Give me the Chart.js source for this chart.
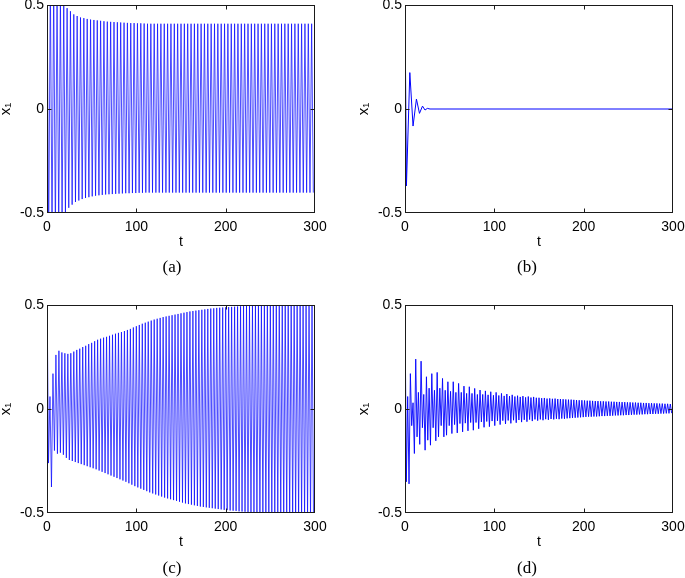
<!DOCTYPE html>
<html>
<head>
<meta charset="utf-8">
<script src="https://cdn.jsdelivr.net/npm/chart.js@4.4.1/dist/chart.umd.min.js"></script>
<style>
  body { margin: 0; width: 685px; height: 578px; overflow: hidden; background: #fff; position: relative; }
  .panel { position: absolute; }
  .cap { position: absolute; font: 17px 'Liberation Serif', 'Times New Roman', serif; color: #000;
         transform: translate(-50%, -50%); white-space: nowrap; }
</style>
</head>
<body>
<div class="panel" style="left:-3px;top:-10px"><canvas id="pa" width="343" height="300"></canvas></div>
<div class="panel" style="left:355px;top:-10px"><canvas id="pb" width="343" height="300"></canvas></div>
<div class="panel" style="left:-3px;top:290px"><canvas id="pc" width="343" height="300"></canvas></div>
<div class="panel" style="left:355px;top:290px"><canvas id="pd" width="343" height="300"></canvas></div>
<div class="cap" style="left:172px;top:267px">(a)</div>
<div class="cap" style="left:527px;top:267px">(b)</div>
<div class="cap" style="left:172px;top:568px">(c)</div>
<div class="cap" style="left:527px;top:568px">(d)</div>
<script>
// x1(t): successive maxima (Up) and minima (Down) of the oscillation.
// Up[i] sits at t = i*period, Down[i] at t = i*period + period/2.

// (a) period ~3.75
const aPeriod = 3.75
const aUp = [
  0.65, 0.62, 0.6, 0.57, 0.54, 0.51, 0.485, 0.47, 0.455, 0.447,
  0.44, 0.437, 0.433, 0.43, 0.428, 0.426, 0.424, 0.422, 0.42, 0.419,
  0.418, 0.417, 0.416, 0.415, 0.414, 0.413, 0.413, 0.412, 0.412, 0.411,
  0.41, 0.41, 0.41, 0.41, 0.41, 0.41, 0.41, 0.41, 0.41, 0.41,
  0.41, 0.41, 0.41, 0.41, 0.41, 0.41, 0.41, 0.41, 0.41, 0.41,
  0.41, 0.41, 0.41, 0.41, 0.41, 0.41, 0.41, 0.41, 0.41, 0.41,
  0.41, 0.41, 0.41, 0.41, 0.41, 0.41, 0.41, 0.41, 0.41, 0.41,
  0.41, 0.41, 0.41, 0.41, 0.41, 0.41, 0.41, 0.41, 0.41, 0.41
]
const aDown = [
  -0.65, -0.62, -0.6, -0.57, -0.54, -0.51, -0.475, -0.46, -0.447, -0.44,
  -0.433, -0.428, -0.424, -0.42, -0.417, -0.415, -0.413, -0.411, -0.41, -0.409,
  -0.408, -0.407, -0.406, -0.405, -0.405, -0.404, -0.404, -0.403, -0.403, -0.402,
  -0.402, -0.402, -0.402, -0.402, -0.402, -0.402, -0.402, -0.402, -0.402, -0.402,
  -0.402, -0.402, -0.402, -0.402, -0.402, -0.402, -0.402, -0.402, -0.402, -0.402,
  -0.402, -0.402, -0.402, -0.402, -0.402, -0.402, -0.402, -0.402, -0.402, -0.402,
  -0.402, -0.402, -0.402, -0.402, -0.402, -0.402, -0.402, -0.402, -0.402, -0.402,
  -0.402, -0.402, -0.402, -0.402, -0.402, -0.402, -0.402, -0.402, -0.402, -0.402
]

// (b) damped quickly, listed point by point
const bT = [0, 1.6, 5.4, 9.0, 12.8, 16.2, 19.6, 22.4, 25, 28, 300]
const bX = [0.5, -0.37, 0.175, -0.082, 0.048, -0.021, 0.014, -0.005, 0.003, 0, 0]

// (c) period ~3.33, growing envelope
const cPeriod = 10 / 3
const cUp = [
  0.6, 0.06, 0.17, 0.26, 0.28, 0.272, 0.268, 0.265, 0.268, 0.276,
  0.284, 0.29, 0.298, 0.304, 0.312, 0.318, 0.326, 0.333, 0.338, 0.343,
  0.347, 0.352, 0.357, 0.362, 0.366, 0.37, 0.375, 0.38, 0.385, 0.392,
  0.398, 0.404, 0.41, 0.415, 0.42, 0.425, 0.43, 0.434, 0.438, 0.442,
  0.445, 0.448, 0.451, 0.454, 0.457, 0.46, 0.463, 0.466, 0.469, 0.471,
  0.473, 0.475, 0.477, 0.479, 0.481, 0.483, 0.484, 0.486, 0.487, 0.488,
  0.489, 0.49, 0.491, 0.492, 0.493, 0.494, 0.495, 0.496, 0.497, 0.498,
  0.499, 0.5, 0.502, 0.504, 0.506, 0.508, 0.51, 0.512, 0.514, 0.516,
  0.518, 0.52, 0.522, 0.524, 0.526, 0.528, 0.53, 0.532, 0.534, 0.536
]
const cDown = [
  -0.26, -0.375, -0.2, -0.215, -0.21, -0.22, -0.235, -0.245, -0.25, -0.255,
  -0.26, -0.265, -0.27, -0.275, -0.28, -0.285, -0.29, -0.296, -0.302, -0.308,
  -0.314, -0.32, -0.326, -0.332, -0.338, -0.344, -0.35, -0.357, -0.364, -0.371,
  -0.377, -0.383, -0.389, -0.395, -0.401, -0.406, -0.411, -0.416, -0.421, -0.426,
  -0.43, -0.434, -0.438, -0.442, -0.446, -0.45, -0.454, -0.457, -0.46, -0.463,
  -0.466, -0.469, -0.471, -0.473, -0.475, -0.477, -0.479, -0.481, -0.483, -0.485,
  -0.486, -0.488, -0.489, -0.49, -0.492, -0.493, -0.494, -0.495, -0.496, -0.497,
  -0.499, -0.5, -0.502, -0.504, -0.506, -0.508, -0.51, -0.512, -0.514, -0.516,
  -0.518, -0.52, -0.522, -0.524, -0.526, -0.528, -0.53, -0.532, -0.534, -0.536
]

// (d) period ~3, beating then slow decay
const dPeriod = 3
const dUp = [
  0.5, 0.06, 0.17, 0.03, 0.24, 0.08, 0.23, 0.07, 0.155, 0.1,
  0.17, 0.09, 0.176, 0.1, 0.147, 0.09, 0.131, 0.085, 0.131, 0.08,
  0.123, 0.08, 0.11, 0.075, 0.107, 0.075, 0.099, 0.07, 0.091, 0.07,
  0.087, 0.068, 0.083, 0.066, 0.08, 0.065, 0.075, 0.063, 0.072, 0.062,
  0.068, 0.06, 0.064, 0.058, 0.062, 0.056, 0.06, 0.055, 0.058, 0.054,
  0.054, 0.052, 0.053, 0.05, 0.051, 0.049, 0.05, 0.048, 0.048, 0.047,
  0.046, 0.045, 0.045, 0.044, 0.043, 0.042, 0.042, 0.041, 0.04, 0.04,
  0.039, 0.038, 0.038, 0.037, 0.037, 0.036, 0.036, 0.035, 0.035, 0.034,
  0.034, 0.033, 0.033, 0.032, 0.032, 0.031, 0.031, 0.03, 0.03, 0.029,
  0.029, 0.028, 0.028, 0.027, 0.027, 0.026, 0.026, 0.025, 0.025, 0.024
]
const dDown = [
  -0.35, -0.36, -0.08, -0.214, -0.134, -0.17, -0.09, -0.198, -0.15, -0.174,
  -0.09, -0.153, -0.134, -0.08, -0.134, -0.126, -0.08, -0.118, -0.075, -0.115,
  -0.07, -0.11, -0.068, -0.105, -0.065, -0.102, -0.065, -0.095, -0.062, -0.088,
  -0.06, -0.085, -0.058, -0.08, -0.057, -0.075, -0.056, -0.072, -0.055, -0.069,
  -0.054, -0.066, -0.053, -0.063, -0.052, -0.061, -0.051, -0.058, -0.05, -0.056,
  -0.05, -0.054, -0.049, -0.052, -0.048, -0.05, -0.047, -0.049, -0.046, -0.047,
  -0.045, -0.044, -0.043, -0.042, -0.041, -0.04, -0.039, -0.038, -0.037, -0.037,
  -0.036, -0.036, -0.035, -0.034, -0.034, -0.033, -0.033, -0.032, -0.031, -0.031,
  -0.03, -0.03, -0.029, -0.029, -0.028, -0.027, -0.027, -0.026, -0.026, -0.025,
  -0.025, -0.024, -0.024, -0.023, -0.023, -0.022, -0.022, -0.021, -0.021, -0.02
]

const xTicks = [0, 100, 200, 300]
const yTicks = [-0.5, 0, 0.5]

function zigzag(period, up, down) {
  const pts = []
  up.forEach((v, i) => {
    pts.push({ x: i * period, y: v })
    pts.push({ x: i * period + period / 2, y: down[i] })
  })
  return pts
}

const font = { family: "'Liberation Sans', Arial, sans-serif", size: 14 }

// box around the axes with small inward ticks, matlab style
const frame = {
  id: 'frame',
  afterDatasetsDraw(chart) {
    const { ctx, chartArea: a, scales: { x, y } } = chart
    const l = Math.round(a.left) + 0.5, r = Math.round(a.right) - 0.5
    const t = Math.round(a.top) + 0.5, b = Math.round(a.bottom) - 0.5
    ctx.save()
    ctx.strokeStyle = '#1a1a1a'
    ctx.lineWidth = 1
    ctx.strokeRect(l, t, r - l, b - t)
    ctx.beginPath()
    xTicks.slice(1, -1).forEach(v => {
      const px = Math.round(x.getPixelForValue(v)) + 0.5
      ctx.moveTo(px, t); ctx.lineTo(px, t + 4)
      ctx.moveTo(px, b); ctx.lineTo(px, b - 4)
    })
    yTicks.slice(1, -1).forEach(v => {
      const py = Math.round(y.getPixelForValue(v)) + 0.5
      ctx.moveTo(l, py); ctx.lineTo(l + 4, py)
      ctx.moveTo(r, py); ctx.lineTo(r - 4, py)
    })
    ctx.stroke()
    ctx.restore()
  }
}

function makePanel(id, points, width) {
  return new Chart(document.getElementById(id), {
    type: 'line',
    data: {
      datasets: [{
        data: points,
        borderColor: '#0000ff',
        borderWidth: width,
        pointRadius: 0,
        tension: 0,
        fill: false,
        clip: 0
      }]
    },
    options: {
      animation: false,
      responsive: false,
      devicePixelRatio: 1,
      events: [],
      layout: { padding: { top: 15, right: 25, bottom: 39, left: 0 } },
      plugins: { legend: { display: false }, tooltip: { enabled: false } },
      scales: {
        x: {
          type: 'linear', min: 0, max: 300,
          grid: { display: false, drawTicks: false }, border: { display: false },
          afterBuildTicks: s => { s.ticks = xTicks.map(v => ({ value: v })) },
          ticks: { autoSkip: false, maxRotation: 0, padding: 6, color: '#000', font },
          title: { display: true, text: 't', color: '#000', font, padding: 0 },
          afterFit: s => { s.height = 38 }
        },
        y: {
          type: 'linear', min: -0.5, max: 0.5,
          grid: { display: false, drawTicks: false }, border: { display: false },
          afterBuildTicks: s => { s.ticks = yTicks.map(v => ({ value: v })) },
          ticks: { padding: 3, color: '#000', font },
          title: { display: true, text: 'x\u2081', color: '#000', font: { ...font, size: 15 }, padding: 0 },
          afterFit: s => { s.width = 50 }
        }
      }
    },
    plugins: [frame]
  })
}

makePanel('pa', zigzag(aPeriod, aUp, aDown), 0.7)
makePanel('pb', bT.map((t, i) => ({ x: t, y: bX[i] })), 1)
makePanel('pc', zigzag(cPeriod, cUp, cDown), 0.7)
makePanel('pd', zigzag(dPeriod, dUp, dDown), 0.9)
</script>
</body>
</html>
